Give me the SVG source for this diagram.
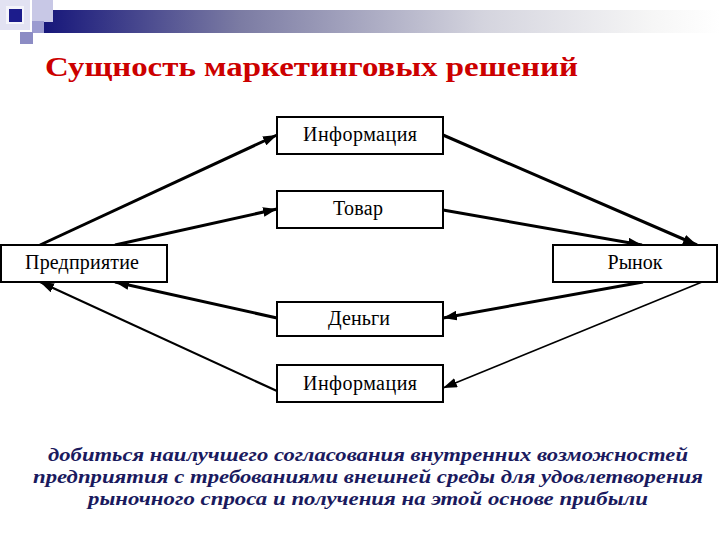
<svg xmlns="http://www.w3.org/2000/svg" width="720" height="540" viewBox="0 0 720 540">
  <defs>
    <linearGradient id="bar" x1="0" y1="0" x2="1" y2="0">
      <stop offset="0" stop-color="#16167a"/>
      <stop offset="0.29" stop-color="#7b7ba3"/>
      <stop offset="0.65" stop-color="#d4d4de"/>
      <stop offset="0.9" stop-color="#f6f6f6"/>
      <stop offset="1" stop-color="#ffffff"/>
    </linearGradient>
    <marker id="ah" viewBox="0 0 13 9" refX="13" refY="4.5" markerWidth="14" markerHeight="10" markerUnits="userSpaceOnUse" orient="auto">
      <path d="M0,0 L13,4.5 L0,9 Z" fill="#000"/>
    </marker>
  </defs>
  <style>
    .box { fill: #fff; stroke: #000; stroke-width: 2; }
    .lbl { font-family: "Liberation Serif", "Times New Roman", serif; font-size: 20px; fill: #000; text-anchor: middle; }
    .con { stroke: #000; fill: none; marker-end: url(#ah); }
    .title { font-family: "Liberation Serif", "Times New Roman", serif; font-weight: bold; font-size: 27px; fill: #cc0000; }
    .note { font-family: "Liberation Serif", "Times New Roman", serif; font-weight: bold; font-style: italic; font-size: 19px; fill: #1a1a5e; text-anchor: middle; }
  </style>
  <rect width="720" height="540" fill="#fff"/>
  <g id="header">
    <rect x="0" y="0" width="30" height="30" fill="#e2e2f2"/>
    <rect x="6" y="6" width="18" height="18" fill="#f4f4fa"/>
    <rect x="9" y="9" width="13" height="13" fill="#1c1c8c"/>
    <rect x="43" y="10" width="677" height="23" fill="url(#bar)"/>
    <rect x="32" y="0" width="21" height="22" fill="#c8c8e6"/>
    <rect x="32" y="21" width="12" height="12" fill="#9c9cd0"/>
    <rect x="20" y="32" width="13" height="12" fill="#8c8cc4"/>
  </g>
  <text class="title" x="45" y="76" textLength="533" lengthAdjust="spacingAndGlyphs">Сущность маркетинговых решений</text>

  <g id="connectors">
    <line class="con" x1="40" y1="245" x2="277" y2="135" stroke-width="3"/>
    <line class="con" x1="115" y1="245" x2="277" y2="209" stroke-width="3"/>
    <line class="con" x1="443" y1="135" x2="697" y2="245" stroke-width="3"/>
    <line class="con" x1="443" y1="210" x2="642" y2="245" stroke-width="3"/>
    <line class="con" x1="643" y1="282" x2="443" y2="318" stroke-width="3"/>
    <line class="con" x1="702" y1="282" x2="443" y2="388" stroke-width="1.6"/>
    <line class="con" x1="277" y1="318" x2="115" y2="282" stroke-width="3"/>
    <line class="con" x1="277" y1="391" x2="40" y2="282" stroke-width="2.2"/>
  </g>

  <g id="info-top">
    <rect class="box" x="277" y="117" width="166" height="37"/>
    <text class="lbl" x="360" y="141" textLength="114">Информация</text>
  </g>
  <g id="tovar">
    <rect class="box" x="277" y="191" width="166" height="37"/>
    <text class="lbl" x="358" y="215" textLength="50">Товар</text>
  </g>
  <g id="predpriyatie">
    <rect class="box" x="1" y="245" width="166" height="37"/>
    <text class="lbl" x="82" y="269" textLength="114">Предприятие</text>
  </g>
  <g id="rynok">
    <rect class="box" x="553" y="245" width="164" height="37"/>
    <text class="lbl" x="635" y="269" textLength="55">Рынок</text>
  </g>
  <g id="dengi">
    <rect class="box" x="277" y="302" width="166" height="34"/>
    <text class="lbl" x="359" y="325" textLength="62">Деньги</text>
  </g>
  <g id="info-bottom">
    <rect class="box" x="277" y="365" width="166" height="37"/>
    <text class="lbl" x="360" y="390" textLength="114">Информация</text>
  </g>

  <g id="note">
    <text class="note" x="368" y="461" textLength="640" lengthAdjust="spacingAndGlyphs">добиться наилучшего согласования внутренних возможностей</text>
    <text class="note" x="368" y="483" textLength="670" lengthAdjust="spacingAndGlyphs">предприятия с требованиями внешней среды для  удовлетворения</text>
    <text class="note" x="368" y="505" textLength="560" lengthAdjust="spacingAndGlyphs">рыночного спроса и получения на этой основе  прибыли</text>
  </g>
</svg>
